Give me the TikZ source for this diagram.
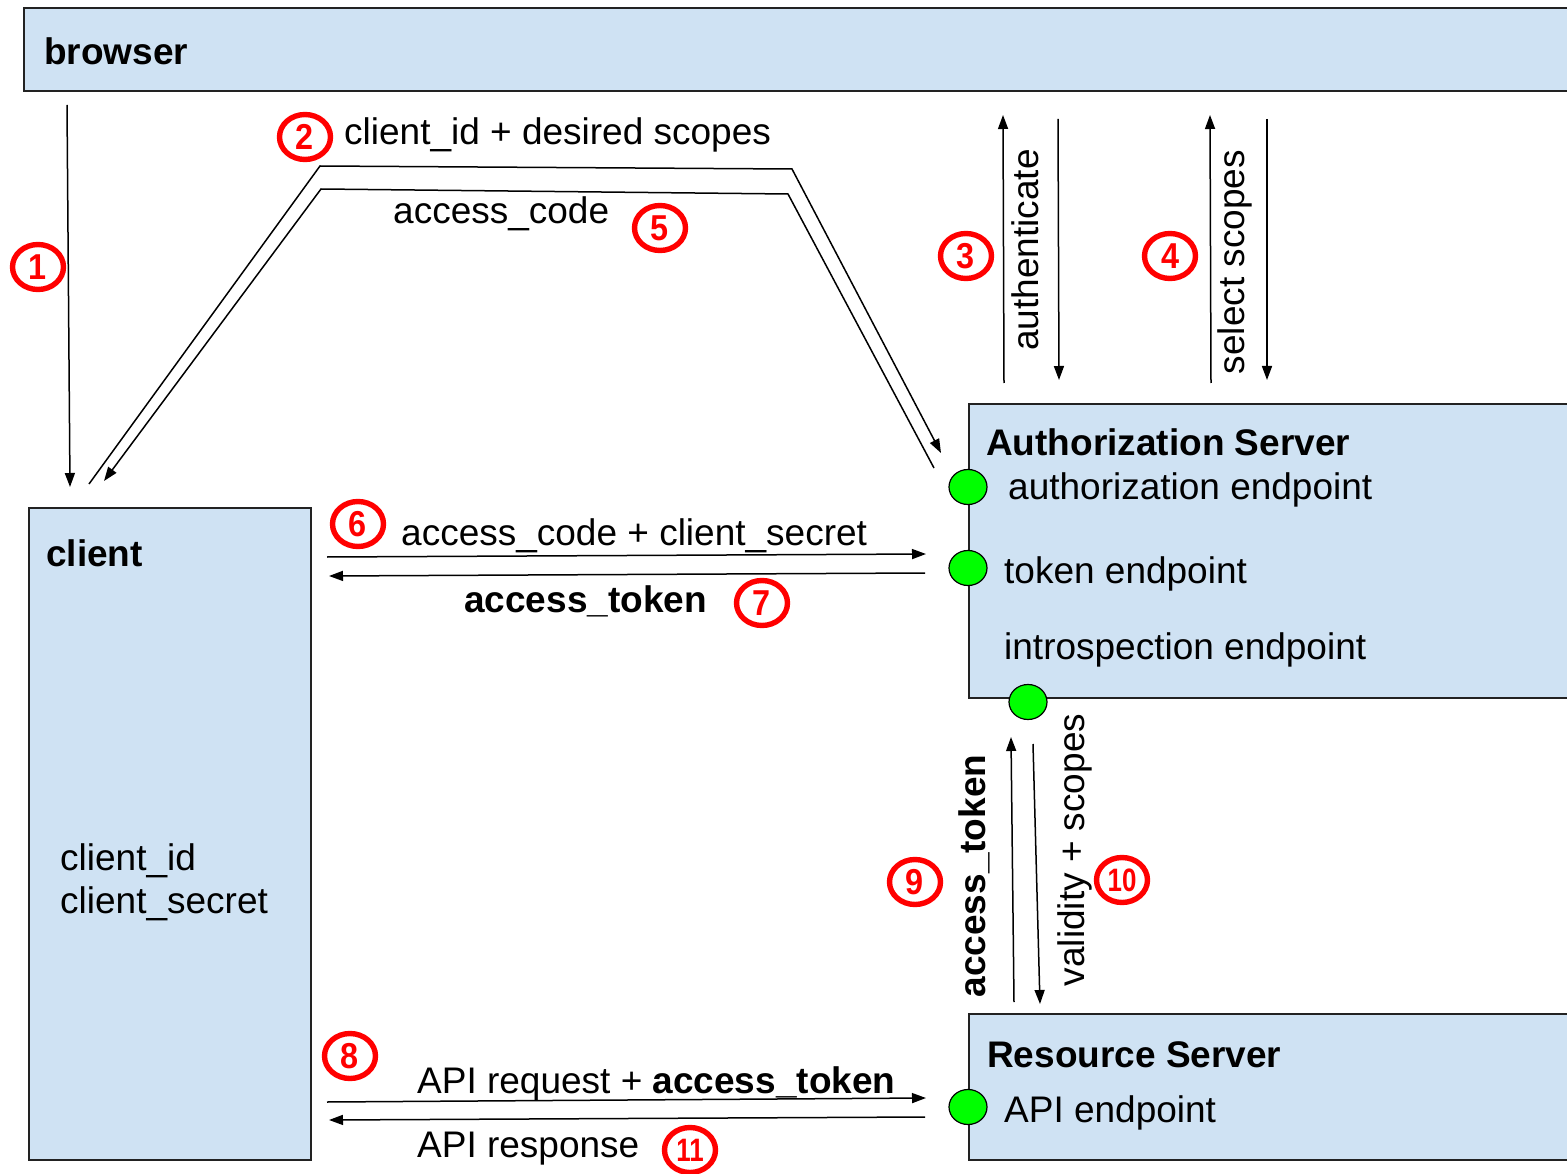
\documentclass[tikz,border=0pt]{standalone}
\usepackage{fontspec}
\usepackage{graphicx}
\setmainfont{Liberation Sans}
\usetikzlibrary{shapes.geometric,arrows.meta}
\definecolor{boxfill}{HTML}{CFE2F3}
\definecolor{boxline}{HTML}{222222}
\definecolor{dotgreen}{HTML}{00FF00}
\definecolor{numred}{HTML}{FF0000}
\newcommand{\stepdigit}[1]{\scalebox{0.9}[1]{#1}}
\newcommand{\stepdigits}[1]{\scalebox{0.72}[0.9]{#1}}
\begin{document}
\begin{tikzpicture}[x=1pt,y=-1pt,
 box/.style={draw=boxline, fill=boxfill, line width=1.6pt, rectangle, inner sep=0pt, anchor=north west},
 txt/.style={inner sep=0pt, anchor=base west, font=\fontsize{37}{44}\selectfont},
 btxt/.style={inner sep=0pt, anchor=base west, font=\fontsize{37}{44}\selectfont\bfseries},
 rtxt/.style={inner sep=0pt, anchor=base, rotate=90, font=\fontsize{37}{44}\selectfont},
 rbtxt/.style={inner sep=0pt, anchor=base, rotate=90, font=\fontsize{37}{44}\selectfont\bfseries},
 dot/.style={ellipse, draw=black, line width=1.2pt, fill=dotgreen, minimum width=38pt, minimum height=35pt, inner sep=0pt},
 num/.style={ellipse, draw=numred, line width=5.4pt, minimum width=51pt, minimum height=45pt, inner sep=0pt, text=numred, font=\fontsize{36}{36}\selectfont\bfseries},
 arr/.style={line width=1.5pt, -{Triangle[length=14pt,width=10pt]}},
]
\useasboundingbox (0,0) rectangle (1567,1174);
\fill[white] (0,0) rectangle (1567,1174);

% boxes
\node[box, minimum width=1600pt, minimum height=83pt] (browser) at (23,7) {};
\node[box, minimum width=282pt, minimum height=652pt] (client) at (28,507) {};
\node[box, minimum width=700pt, minimum height=294pt] (authz) at (968,403) {};
\node[box, minimum width=700pt, minimum height=146pt] (rs) at (968,1013) {};

% box texts
\node[btxt] (tbrowser) at (44,65) {browser};
\node[btxt] (tclient) at (46,566) {client};
\node[txt] (tcid) at (60,870) {client\_id};
\node[txt] (tcsec) at (60,913) {client\_secret};
\node[btxt] (tauthz) at (986,455) {Authorization Server};
\node[txt] (tae) at (1008,499) {authorization endpoint};
\node[txt] (tte) at (1004,583) {token endpoint};
\node[txt] (tie) at (1004,659) {introspection endpoint};
\node[btxt] (trs) at (987,1067) {Resource Server};
\node[txt] (tapi) at (1004,1122) {API endpoint};

% endpoint dots
\node[dot] (d1) at (968,487) {};
\node[dot] (d2) at (968,568) {};
\node[dot] (d3) at (1028,702) {};
\node[dot] (d4) at (968,1107) {};

% connector end points
\coordinate (a1s) at (67,105);   \coordinate (a1e) at (70,487);
\coordinate (a2s) at (89,484);   \coordinate (a2p) at (320,166);
\coordinate (a2q) at (792,169);  \coordinate (a2e) at (941,453);
\coordinate (a5s) at (934,468);  \coordinate (a5p) at (788,194);
\coordinate (a5q) at (321,189);  \coordinate (a5e) at (104,481);
\coordinate (a3s) at (1004,383); \coordinate (a3e) at (1003,115);
\coordinate (a3bs) at (1058,119);\coordinate (a3be) at (1059,380);
\coordinate (a4s) at (1211,383); \coordinate (a4e) at (1210,115);
\coordinate (a4bs) at (1267,119);\coordinate (a4be) at (1267,380);
\coordinate (a6s) at (327,557);  \coordinate (a6e) at (926,554);
\coordinate (a7s) at (925,573);  \coordinate (a7e) at (329,576);
\coordinate (a9s) at (1014,1002);\coordinate (a9e) at (1011,737);
\coordinate (a10s) at (1033,744);\coordinate (a10e) at (1040,1004);
\coordinate (a8s) at (327,1102); \coordinate (a8e) at (926,1098);
\coordinate (a11s) at (925,1117);\coordinate (a11e) at (329,1120);

% connectors
\draw[arr] (a1s) -- (a1e);
\draw[arr] (a2s) -- (a2p) -- (a2q) -- (a2e);
\draw[arr] (a5s) -- (a5p) -- (a5q) -- (a5e);
\draw[arr] (a3s) -- (a3e);
\draw[arr] (a3bs) -- (a3be);
\draw[arr] (a4s) -- (a4e);
\draw[arr] (a4bs) -- (a4be);
\draw[arr] (a6s) -- (a6e);
\draw[arr] (a7s) -- (a7e);
\draw[arr] (a9s) -- (a9e);
\draw[arr] (a10s) -- (a10e);
\draw[arr] (a8s) -- (a8e);
\draw[arr] (a11s) -- (a11e);

% connector labels
\node[txt] (l2) at (344,145) {client\_id + desired scopes};
\node[txt] (l5) at (393,224) {access\_code};
\node[rtxt] (l3) at (1038,250) {authenticate};
\node[rtxt] (l4) at (1244,262) {select scopes};
\node[txt] (l6) at (401,545) {access\_code + client\_secret};
\node[btxt] (l7) at (464,612) {access\_token};
\node[rbtxt] (l9) at (985,876) {access\_token};
\node[rtxt] (l10) at (1084,850) {validity + scopes};
\node[txt] (l8) at (417,1093) {API request + \textbf{access\_token}};
\node[txt] (l11) at (417,1157) {API response};

% step numbers
\node[num] (n1) at (38,267) {\stepdigit{1}};
\node[num] (n2) at (305,137) {\stepdigit{2}};
\node[num] (n3) at (966,256) {\stepdigit{3}};
\node[num] (n4) at (1170,256) {\stepdigit{4}};
\node[num] (n5) at (660,228) {\stepdigit{5}};
\node[num] (n6) at (358,524) {\stepdigit{6}};
\node[num] (n7) at (762,603) {\stepdigit{7}};
\node[num] (n8) at (350,1056) {\stepdigit{8}};
\node[num] (n9) at (915,882) {\stepdigit{9}};
\node[num] (n10) at (1122,880) {\stepdigits{10}};
\node[num] (n11) at (690,1150) {\stepdigits{11}};
\end{tikzpicture}
\end{document}
